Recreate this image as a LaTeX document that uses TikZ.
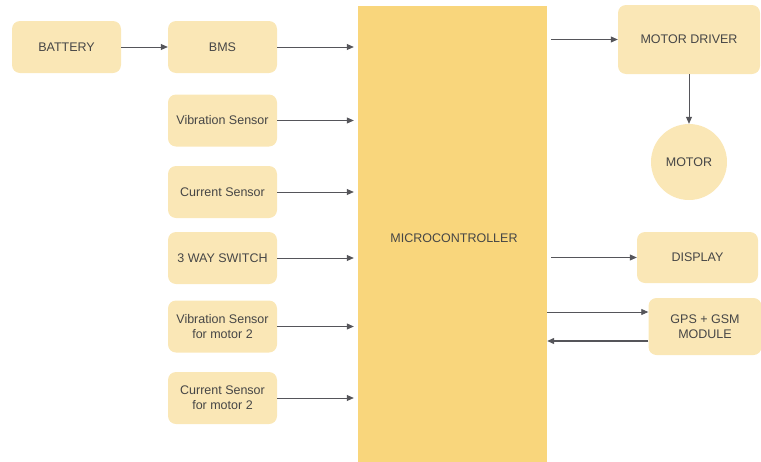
\documentclass[tikz,border=0pt]{standalone}
\usepackage{fontspec}
\setmainfont{Liberation Sans}
\usetikzlibrary{arrows.meta}
\definecolor{boxfill}{RGB}{250,231,182}
\definecolor{mcufill}{RGB}{249,214,124}
\definecolor{txt}{RGB}{70,70,70}
\definecolor{wire}{RGB}{85,85,90}
\begin{document}
\begin{tikzpicture}[x=1pt, y=-1pt,
    every node/.style={font=\fontsize{12.5}{15}\selectfont, text=txt},
    blk/.style={fill=boxfill, rounded corners=8pt, minimum width=109pt, minimum height=52pt, align=center, inner sep=2pt},
    link/.style={draw=wire, line width=0.8pt, -{Triangle[length=7pt, width=6pt]}}]
  \useasboundingbox (0,0) rectangle (761,461);
  % microcontroller block
  \node[fill=mcufill, minimum width=189pt, minimum height=456pt, inner sep=0pt] (mcu) at (452.5,234) {};
  \node at (454,238) {MICROCONTROLLER};
  % input side
  \node[blk] (bat) at (66.5,47) {BATTERY};
  \node[blk] (bms) at (222.5,47) {BMS};
  \node[blk] (vib) at (222.5,120.5) {Vibration Sensor};
  \node[blk] (cur) at (222.5,192) {Current Sensor};
  \node[blk] (sw) at (222.5,258) {3 WAY SWITCH};
  \node[blk] (vib2) at (222.5,326.5) {Vibration Sensor\\for motor 2};
  \node[blk] (cur2) at (222.5,398) {Current Sensor\\for motor 2};
  \draw[link] (bat) -- (bms);
  \foreach \n in {bms,vib,cur,sw,vib2,cur2} {
    \draw[link, shorten >=4pt] (\n) -- (\n -| mcu.west);
  }
  % output side
  \node[blk, minimum width=142pt, minimum height=69pt] (drv) at (689,39.5) {MOTOR DRIVER};
  \node[circle, fill=boxfill, minimum size=76pt] (mot) at (689,162) {MOTOR};
  \node[blk, minimum width=121pt, minimum height=51pt] (disp) at (697.5,257.5) {DISPLAY};
  \node[blk, minimum width=113pt, minimum height=57pt] (gps) at (705,326.5) {GPS + GSM\\MODULE};
  \draw[link, shorten <=4pt] (mcu.east |- drv) -- (drv);
  \draw[link] (drv) -- (mot);
  \draw[link, shorten <=4pt] (mcu.east |- disp) -- (disp);
  \draw[link] ([yshift=14.5pt]gps.west -| mcu.east) -- ([yshift=14.5pt]gps.west);
  \draw[link, line width=1.2pt] ([yshift=-14.5pt]gps.west) -- ([yshift=-14.5pt]gps.west -| mcu.east);
\end{tikzpicture}
\end{document}
